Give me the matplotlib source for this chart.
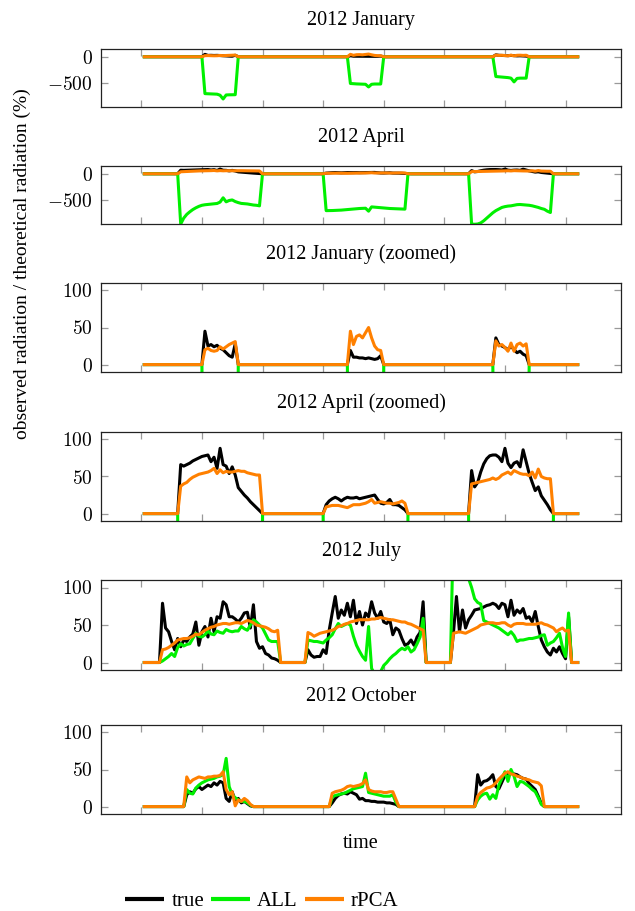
import numpy as np
import matplotlib
matplotlib.use("Agg")
import matplotlib.pyplot as plt

plt.rcParams["font.family"] = ["Liberation Serif", "DejaVu Serif"]
plt.rcParams["mathtext.fontset"] = "cm"

# half-hour samples over three days
x = np.arange(1, 145)

# first daylight sample of each day, per month
jan_start = [21, 69, 117]
apr_start = [13, 61, 109]
jul_start = [7, 55, 103]
oct_start = [15, 63, 111]

# January (daylight values, the rest is zero)
jan_true = [[45, 25, 27, 24, 26, 22, 20, 16, 12, 10, 28],
            [19, 10, 10, 9, 9, 8, 9, 8, 7, 8, 12],
            [36, 27, 25, 23, 20, 25, 20, 16, 18, 14, 12]]
jan_all = [[-690, -692, -694, -696, -700, -720, -790, -715, -712, -712, -710],
           [-500, -505, -508, -510, -510, -515, -565, -515, -510, -510, -510],
           [-370, -375, -380, -385, -390, -400, -470, -405, -400, -400, -400]]
jan_rpca = [[20, 22, 19, 18, 19, 24, 21, 24, 27, 29, 31],
            [45, 27, 38, 40, 36, 43, 50, 36, 25, 20, 19],
            [32, 25, 27, 23, 18, 29, 18, 27, 29, 25, 28]]

# April
apr_true = [[66, 64, 66, 68, 71, 73, 75, 77, 78, 79, 70, 76, 61, 88, 66, 64, 54, 63, 52, 35, 30, 25, 21, 16, 12, 8, 4],
            [12, 17, 20, 22, 20, 17, 20, 22, 21, 21, 22, 20, 21, 22, 23, 24, 25, 19, 14, 13, 15, 19, 12, 12, 11, 8, 5],
            [58, 36, 42, 56, 67, 74, 78, 79, 79, 76, 70, 88, 68, 62, 68, 70, 63, 86, 70, 54, 42, 31, 36, 24, 18, 12, 5]]
apr_all = [[-940, -830, -760, -712, -670, -637, -610, -590, -580, -575, -568, -562, -556, -530, -450, -525, -500, -490,
            -520, -540, -555, -560, -565, -575, -585, -590, -600],
           [-690, -690, -688, -686, -684, -680, -675, -670, -665, -660, -655, -650, -648, -645, -700, -620, -625, -630,
            -635, -640, -645, -650, -652, -655, -658, -660, -662],
           [-940, -945, -940, -920, -880, -830, -780, -730, -690, -660, -630, -615, -605, -600, -590, -578, -575, -580,
            -585, -590, -600, -615, -630, -650, -665, -700, -725]]
apr_rpca = [[37, 40, 42, 46, 49, 51, 53, 54, 55, 56, 58, 61, 54, 59, 55, 57, 56, 56, 57, 58, 57, 57, 55, 54, 53, 52, 52],
            [9, 10, 11, 11, 11, 10, 9, 8, 10, 12, 12, 12, 13, 14, 16, 19, 14, 15, 16, 15, 14, 14, 13, 14, 15, 17, 14],
            [40, 41, 42, 43, 44, 45, 46, 48, 46, 48, 52, 54, 56, 53, 58, 56, 54, 53, 53, 51, 56, 48, 60, 50, 48, 47, 47]]

# July
jul_true = [[79, 46, 41, 28, 17, 32, 21, 30, 28, 34, 38, 54, 23, 41, 48, 34, 59, 41, 61, 59,
             81, 77, 61, 61, 58, 54, 59, 66, 67, 46, 77, 28, 19, 21, 12, 10, 6, 5, 3],
            [17, 10, 7, 8, 8, 17, 12, 43, 66, 88, 59, 70, 63, 79, 61, 83, 52, 68, 50, 66,
             61, 81, 66, 59, 68, 54, 52, 57, 37, 46, 43, 32, 23, 25, 30, 23, 34, 40, 81],
            [39, 88, 41, 70, 46, 57, 63, 70, 71, 72, 74, 76, 77, 79, 77, 72, 79, 77, 61, 83,
             63, 70, 66, 72, 59, 61, 54, 68, 48, 30, 21, 14, 10, 19, 14, 21, 12, 5, 61]]
jul_all = [[2, 5, 8, 12, 8, 20, 25, 22, 24, 25, 32, 39, 35, 34, 37, 42, 38, 37, 42, 40,
            39, 44, 42, 41, 42, 42, 48, 45, 43, 50, 57, 54, 50, 46, 38, 30, 28, 28, 28],
           [30, 29, 28, 28, 27, 26, 30, 33, 37, 45, 52, 48, 50, 52, 50, 35, 23, 15, 8, 3,
            48, -8, -15, -15, -12, -4, 0, 5, 9, 12, 16, 19, 17, 21, 14, 17, 25, 34, 59],
           [180, 200, 190, 165, 140, 112, 100, 85, 80, 78, 56, 54, 52, 50, 48, 46, 43, 40, 37, 41,
            36, 28, 30, 30, 31, 32, 32, 33, 34, 36, 37, 23, 26, 28, 33, 39, 20, 8, 66]]
jul_rpca = [[17, 18, 20, 23, 26, 30, 31, 32, 32, 33, 35, 38, 37, 40, 43, 45, 47, 48, 50, 51,
             52, 52, 51, 52, 53, 53, 52, 54, 56, 55, 53, 50, 49, 48, 47, 45, 42, 41, 43],
            [40, 38, 35, 37, 39, 40, 41, 42, 43, 45, 48, 49, 51, 52, 54, 55, 56, 57, 57, 57,
             57, 58, 58, 59, 60, 59, 58, 57, 57, 56, 55, 54, 54, 52, 51, 49, 47, 45, 43],
            [39, 40, 41, 40, 39, 41, 43, 45, 47, 50, 51, 52, 53, 53, 52, 52, 53, 53, 50, 48,
             51, 52, 52, 52, 51, 51, 51, 51, 52, 53, 51, 50, 48, 46, 41, 44, 46, 42, 43]]

# October
oct_true = [[16, 20, 18, 24, 27, 23, 26, 29, 27, 32, 29, 34, 32, 11, 7, 20, 7, 11, 5, 7, 4, 1],
            [5, 11, 15, 17, 18, 17, 20, 18, 16, 10, 11, 8, 8, 7, 7, 6, 6, 6, 5, 5, 4, 3],
            [43, 29, 34, 35, 38, 43, 27, 24, 33, 42, 45, 45, 44, 43, 40, 38, 37, 31, 27, 23, 14, 4]]
oct_all = [[23, 18, 17, 25, 29, 32, 34, 36, 37, 38, 40, 41, 43, 65, 27, 16, 12, 9, 7, 7, 5, 2],
           [13, 15, 16, 17, 18, 20, 22, 24, 25, 26, 27, 45, 19, 18, 17, 16, 15, 14, 14, 14, 16, 6],
           [9, 14, 17, 18, 10, 16, 11, 29, 38, 47, 34, 50, 41, 27, 34, 33, 30, 27, 23, 20, 12, 3]]
oct_rpca = [[40, 32, 36, 38, 40, 39, 38, 40, 40, 41, 41, 42, 47, 23, 16, 20, 1, 9, 7, 11, 8, 3],
            [18, 20, 21, 22, 24, 27, 28, 27, 28, 29, 31, 36, 23, 21, 20, 20, 20, 19, 19, 20, 20, 10],
            [14, 19, 22, 25, 26, 28, 32, 37, 41, 45, 47, 44, 43, 41, 40, 38, 37, 36, 34, 33, 32, 28]]

labels = ["true", "ALL", "rPCA"]
colors = ["black", "#00f000", "#ff8000"]


def fill(starts, days):
    y = np.zeros(len(x))
    for s, vals in zip(starts, days):
        y[s - 1:s - 1 + len(vals)] = vals
    return y


jan = [fill(jan_start, d) for d in (jan_true, jan_all, jan_rpca)]
apr = [fill(apr_start, d) for d in (apr_true, apr_all, apr_rpca)]
jul = [fill(jul_start, d) for d in (jul_true, jul_all, jul_rpca)]
octo = [fill(oct_start, d) for d in (oct_true, oct_all, oct_rpca)]

panels = [
    ("2012 January", jan, (-940, 145), [-500, 0]),
    ("2012 April", apr, (-940, 145), [-500, 0]),
    ("2012 January (zoomed)", jan, (-10, 110), [0, 50, 100]),
    ("2012 April (zoomed)", apr, (-10, 110), [0, 50, 100]),
    ("2012 July", jul, (-10, 110), [0, 50, 100]),
    ("2012 October", octo, (-10, 110), [0, 50, 100]),
]
# axes boxes in pixels (top, bottom)
boxes = [(49, 107), (166, 224), (283, 372), (432, 521), (580, 670), (725, 814)]

W, H = 635, 911
fig = plt.figure(figsize=(W / 100, H / 100), dpi=100)
left, right = 101, 621

lines = []
for (title, data, ylim, yticks), (top, bot) in zip(panels, boxes):
    ax = fig.add_axes([left / W, 1 - bot / H, (right - left) / W, (bot - top) / H])
    lines = []
    for y, c, lab in zip(data, colors, labels):
        ln, = ax.plot(x, y, color=c, lw=2.2, label=lab)
        lines.append(ln)
    ax.set_xlim(-13.3, 158.3)
    ax.set_ylim(ylim)
    ax.set_xticks(range(0, 141, 20))
    ax.set_xticklabels([])
    ax.set_yticks(yticks, labels=["$%d$" % t for t in yticks])
    ax.tick_params(direction="in", top=True, right=True, length=5, width=0.9,
                   color="#999999", labelsize=14, pad=6)
    for sp in ax.spines.values():
        sp.set_color("#222222")
        sp.set_linewidth(0.9)
    ax.set_title(title, fontsize=14.5, pad=17)

fig.text(361 / W, 1 - 843 / H, "time", fontsize=14.5, ha="center", va="center")
fig.text(22 / W, 1 - 264 / H, "observed radiation / theoretical radiation (%)",
         fontsize=14, rotation=90, ha="center", va="center")

leg = fig.legend(lines, labels, loc="center", bbox_to_anchor=(262 / W, 1 - 901 / H), ncol=3,
                 frameon=False, fontsize=15, handlelength=1.85, handletextpad=0.35, columnspacing=0.35)
for h in leg.legend_handles:
    h.set_linewidth(3)
    h.set_solid_capstyle("butt")

fig.savefig("out.png", dpi=100)
